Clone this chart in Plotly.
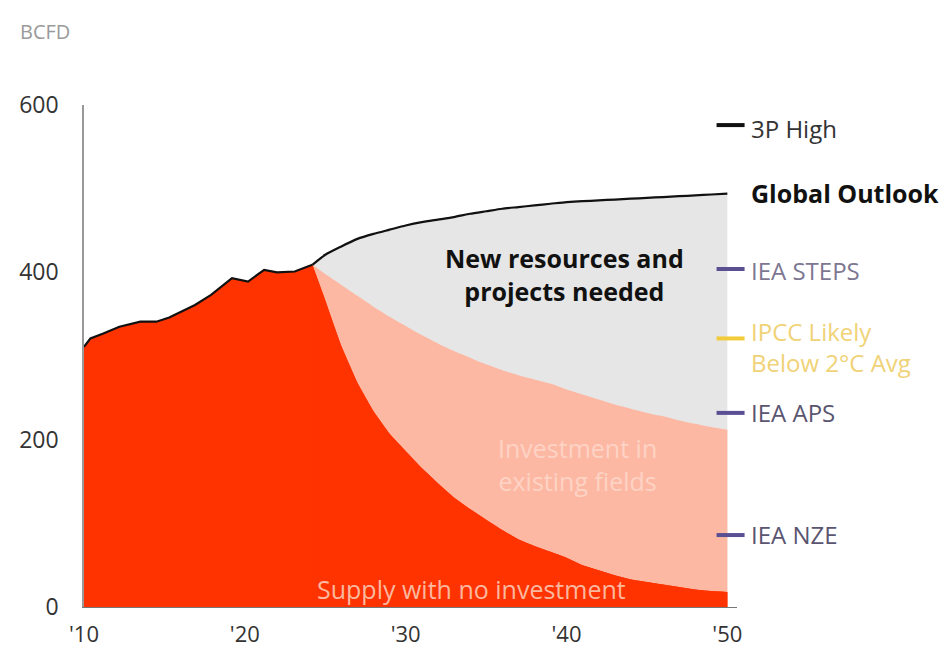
import plotly.graph_objects as go

# ---------------- data ----------------
hist_years = [2010.0, 2010.4, 2011.2, 2012.2, 2013.5, 2014.5, 2015.3, 2016.9,
              2017.9, 2019.2, 2020.2, 2021.2, 2022.0, 2023.1, 2024.2]
hist_values = [311, 321, 327, 335, 341, 341, 346, 361,
               373, 393, 389, 403, 400, 401, 409]

proj_years = [2024.2, 2025, 2026, 2027, 2028, 2029, 2030, 2031, 2032, 2033, 2034,
              2035, 2036, 2037, 2038, 2039, 2040, 2041, 2042, 2043, 2044, 2045,
              2046, 2047, 2048, 2049, 2050]
global_outlook = [409, 421, 431, 440, 446, 451, 456, 460, 463, 466, 470,
                  473, 476, 478, 480, 482, 484, 485, 486, 487, 488, 489,
                  490, 491, 492, 493, 494]
with_existing_investment = [409, 398, 385, 372, 359, 347, 336, 325, 315, 306, 298,
                            290, 283, 277, 272, 267, 260, 254, 248, 242, 237, 232,
                            228, 223, 219, 215, 212]
no_investment = [409, 367, 312, 268, 234, 207, 186, 166, 148, 131, 117,
                 104, 92, 81, 73, 66, 59, 50, 44, 38, 33, 30,
                 27, 24, 21, 19, 18]

scenario_labels = ["3P High", "IEA STEPS", "IPCC Likely<br>Below 2°C Avg", "IEA APS", "IEA NZE"]
scenario_values = [576, 404, 321, 232, 86]
scenario_label_y = [572, 402, 311, 232, 87]
scenario_colors = ["#111111", "#5b4f94", "#f2cb3a", "#5b4f94", "#5b4f94"]
scenario_text_colors = ["#333333", "#7d7792", "#f0d277", "#5a5570", "#5a5570"]
scenario_x = 2050.2

x_tick_vals = [2010, 2020, 2030, 2040, 2050]
x_tick_text = ["'10", "'20", "'30", "'40", "'50"]
y_tick_vals = [0, 200, 400, 600]

FONT = "Open Sans"
RED = "#ff3300"
PINK = "#fdb8a3"
GREY = "#e6e6e6"

fig = go.Figure()

spl = dict(width=0, shape="spline", smoothing=0.6)
# grey: new resources needed (up to global outlook)
fig.add_trace(go.Scatter(x=proj_years, y=global_outlook, mode="lines", line=spl,
                         fill="tozeroy", fillcolor=GREY, hoverinfo="skip", showlegend=False))
# pink: investment in existing fields
fig.add_trace(go.Scatter(x=proj_years, y=with_existing_investment, mode="lines", line=spl,
                         fill="tozeroy", fillcolor=PINK, hoverinfo="skip", showlegend=False))
# red: history + supply with no investment (one continuous area)
fig.add_trace(go.Scatter(x=hist_years + proj_years[1:], y=hist_values + no_investment[1:],
                         mode="lines", line=dict(width=0),
                         fill="tozeroy", fillcolor=RED, hoverinfo="skip", showlegend=False))
# smooth overlay of the decline curve
fig.add_trace(go.Scatter(x=proj_years, y=no_investment, mode="lines", line=spl,
                         fill="tozeroy", fillcolor=RED, hoverinfo="skip", showlegend=False))
# black line: history + global outlook
fig.add_trace(go.Scatter(x=hist_years, y=hist_values, mode="lines",
                         line=dict(color="#111111", width=2.2),
                         hoverinfo="skip", showlegend=False))
fig.add_trace(go.Scatter(x=proj_years, y=global_outlook, mode="lines",
                         line=dict(color="#111111", width=2.2, shape="spline", smoothing=0.6),
                         hoverinfo="skip", showlegend=False))

# scenario dashes at 2050
fig.add_trace(go.Scatter(x=[scenario_x] * len(scenario_values), y=scenario_values,
                         mode="markers", cliponaxis=False,
                         marker=dict(symbol="line-ew", size=20, color=scenario_colors,
                                     line=dict(width=4, color=scenario_colors)),
                         hoverinfo="skip", showlegend=False))

annotations = []
label_x = 1.018
for lab, yv, col in zip(scenario_labels, scenario_label_y, scenario_text_colors):
    annotations.append(dict(x=label_x, xref="paper", y=yv, yref="y", text=lab,
                            xanchor="left", yanchor="middle", align="left",
                            showarrow=False, font=dict(family=FONT, size=24, color=col)))
annotations.append(dict(x=label_x, xref="paper", y=495, yref="y", text="<b>Global Outlook</b>",
                        xanchor="left", yanchor="middle", showarrow=False,
                        font=dict(family=FONT, size=25, color="#111111")))

annotations.append(dict(x=2039.9, y=397, text="<b>New resources and<br>projects needed</b>",
                        showarrow=False, align="center",
                        font=dict(family=FONT, size=25, color="#111111")))
annotations.append(dict(x=2040.7, y=170, text="Investment in<br>existing fields",
                        showarrow=False, align="center",
                        font=dict(family=FONT, size=25, color="#fdd3c5")))
annotations.append(dict(x=2034.1, y=21, text="Supply with no investment",
                        showarrow=False, align="center",
                        font=dict(family=FONT, size=25, color="#fcb89f")))
annotations.append(dict(x=-0.101, y=1.147, xref="paper", yref="paper", text="BCFD",
                        xanchor="left", yanchor="middle", showarrow=False,
                        font=dict(family=FONT, size=20, color="#9a9a9a")))

fig.update_layout(
    width=939, height=643,
    margin=dict(l=76, r=210, t=97, b=44),
    paper_bgcolor="white", plot_bgcolor="white",
    font=dict(family=FONT, size=22, color="#333333"),
    annotations=annotations,
    xaxis=dict(range=[2010, 2050.6], tickmode="array", tickvals=x_tick_vals,
               ticktext=x_tick_text, showgrid=False, zeroline=False,
               showline=True, linecolor="#777777", linewidth=1,
               ticks="", ticklabelstandoff=8, automargin=False,
               tickfont=dict(family=FONT, size=22, color="#333333")),
    yaxis=dict(range=[0, 600], tickmode="array", tickvals=y_tick_vals,
               showgrid=False, zeroline=False, showline=True,
               linecolor="#999999", linewidth=1.5, ticks="",
               ticklabelstandoff=19, automargin=False,
               tickfont=dict(family=FONT, size=23, color="#333333")),
)

fig.write_html("out.html")
